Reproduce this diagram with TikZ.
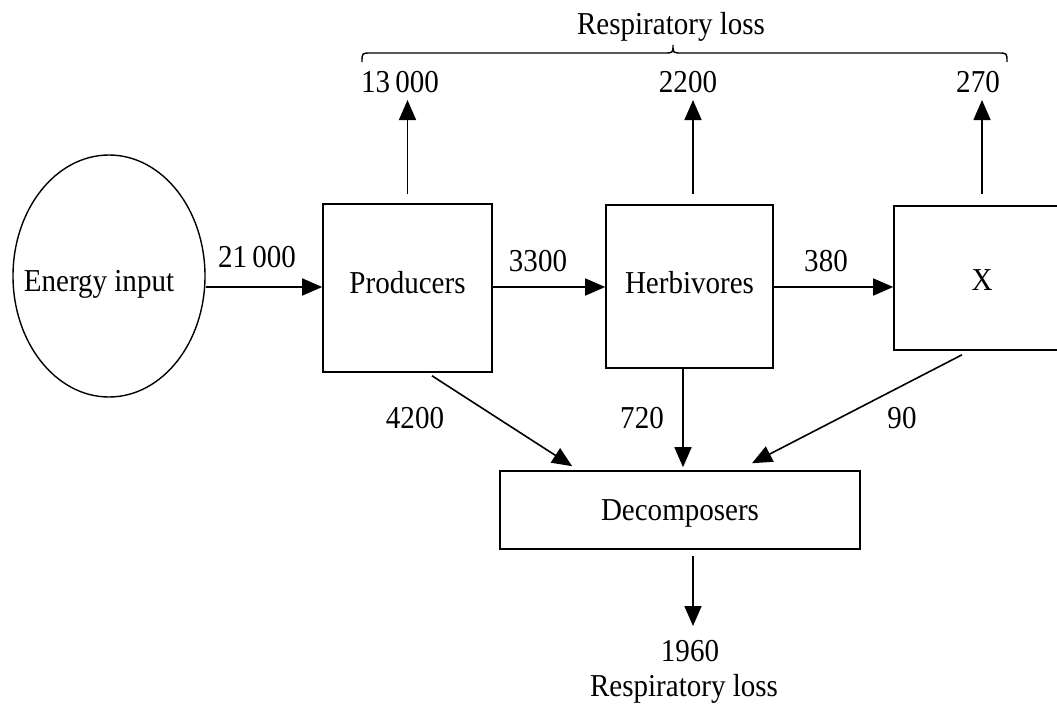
\documentclass[tikz,border=0pt]{standalone}
\usepackage{fontspec}
\setmainfont{Liberation Serif}[FakeStretch=0.91]
\usetikzlibrary{arrows.meta,shapes.geometric}
\begin{document}
\begin{tikzpicture}[x=1pt,y=-1pt,
  font=\fontsize{31.9}{38}\selectfont,
  box/.style={draw,line width=1.6pt,inner sep=0pt,text height=21.6pt,text depth=0pt},
  arr/.style={line width=1.6pt,-{Triangle[length=20pt,width=17pt]}},
  lbl/.style={anchor=base,inner sep=0pt}]
\clip (0,0) rectangle (1057,704);
% nodes
\node[ellipse,draw,line width=1.4pt,minimum width=192pt,minimum height=242pt,inner sep=0pt,
  label={[xshift=-10pt,yshift=-5pt,inner sep=0pt,text height=21.6pt,text depth=0pt]center:Energy input}] (ein) at (109,276) {};
\node[box,minimum width=169pt,minimum height=168pt,text depth=10pt] (prod) at (407.5,288) {Producers};
\node[box,minimum width=167pt,minimum height=163pt,text depth=8pt] (herb) at (689.5,286.5) {Herbivores};
\node[box,minimum width=176pt,minimum height=144pt,text height=25.6pt] (X) at (982,278) {X};
\node[box,minimum width=360pt,minimum height=78pt] (dec) at (680,510) {Decomposers};
% helper coordinates
\coordinate (row) at (0,287);
\coordinate (tP) at (407.5,100);
\coordinate (tH) at (693,100);
\coordinate (tX) at (982,100);
\coordinate (tD) at (693,626);
% horizontal arrows
\draw[arr] (ein.east |- row) -- (prod.west |- row);
\draw[arr] (prod.east |- row) -- (herb.west |- row);
\draw[arr] (herb.east |- row) -- (X.west |- row);
% up arrows
\draw[arr] ([yshift=9pt]prod.north) -- (tP);
\draw[arr] ([xshift=3.5pt,yshift=10pt]herb.north) -- (tH);
\draw[arr] ([yshift=11pt]X.north) -- (tX);
% to decomposers
\draw[arr] ([xshift=24.5pt,yshift=-3pt]prod.south) -- ([xshift=73pt,yshift=4pt]dec.north west);
\draw[arr] ([xshift=-6.5pt]herb.south) -- ([xshift=3pt,yshift=3pt]dec.north);
\draw[arr] ([xshift=-20pt,yshift=-4pt]X.south) -- ([xshift=72pt,yshift=7pt]dec.north);
\draw[arr] ([xshift=13pt,yshift=-6pt]dec.south) -- (tD);
% brace
\coordinate (bL) at (362,62);
\coordinate (bR) at (1007,62);
\draw[line width=1.4pt] (bL) .. controls (362,53) .. (371,53) -- (664,53)
  .. controls (673,53) .. (673,45) .. controls (673,53) .. (682,53) -- (998,53)
  .. controls (1007,53) .. (bR);
% labels
\node[lbl] (l1) at (257,267) {21\,000};
\node[lbl] (l2) at (538,271) {3300};
\node[lbl] (l3) at (826,271) {380};
\node[lbl] (l4) at (400,92) {13\,000};
\node[lbl] (l5) at (688,92) {2200};
\node[lbl] (l6) at (978,92) {270};
\node[lbl] (l7) at (671,34) {Respiratory loss};
\node[lbl] (l8) at (415,428) {4200};
\node[lbl] (l9) at (642,428) {720};
\node[lbl] (l10) at (902,428) {90};
\node[lbl] (l11) at (690,661) {1960};
\node[lbl] (l12) at (684,696) {Respiratory loss};
\end{tikzpicture}
\end{document}
